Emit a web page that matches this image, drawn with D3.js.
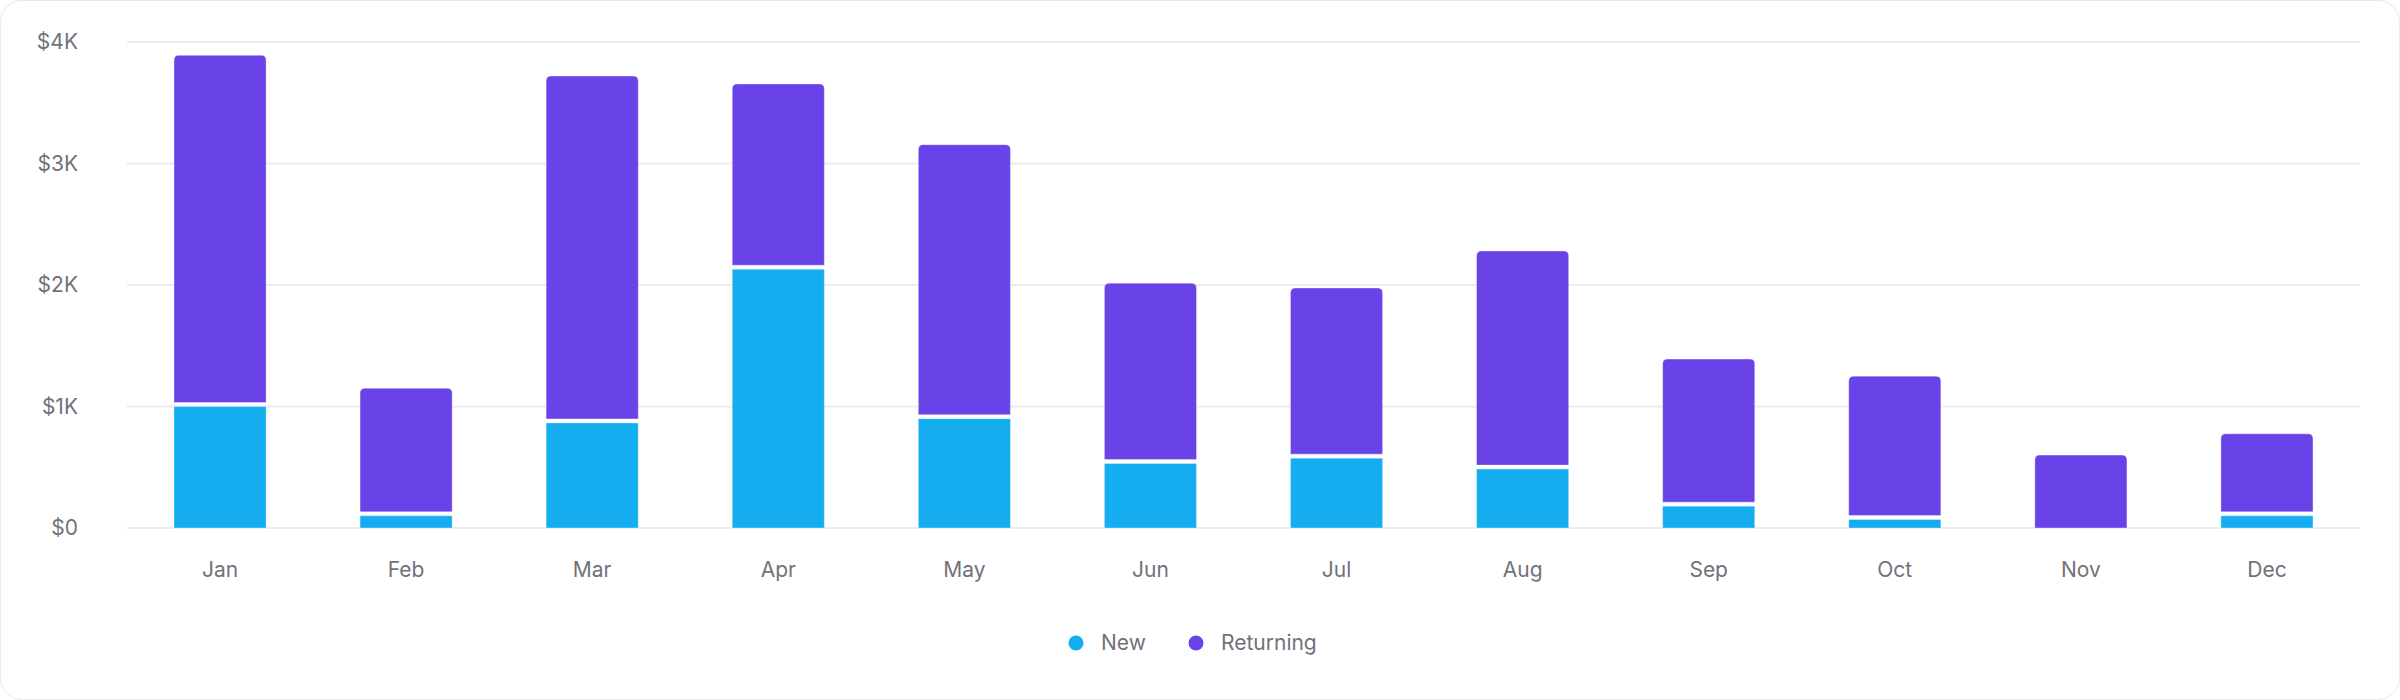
<!DOCTYPE html>
<html>
<head>
<meta charset="utf-8">
<script src="https://cdn.jsdelivr.net/npm/d3@7"></script>
<style>
  html, body { margin: 0; padding: 0; background: #fff; }
  .card {
    position: absolute; left: 0; top: 0;
    width: 2398px; height: 698px;
    border: 1px solid #e9e9ec; border-radius: 22px;
    box-sizing: content-box; overflow: hidden;
  }
  text { font-family: Inter, "Noto Sans", sans-serif; }
</style>
</head>
<body>
<div class="card"></div>
<svg id="chart" width="2400" height="700" style="position:absolute;left:0;top:0"></svg>
<script>
// data
const months = ["Jan", "Feb", "Mar", "Apr", "May", "Jun", "Jul", "Aug", "Sep", "Oct", "Nov", "Dec"]
const newValues = [1000, 100, 865, 2130, 900, 530, 575, 485, 180, 70, 0, 100]
const returningValues = [2890, 1050, 2855, 1525, 2255, 1485, 1400, 1795, 1210, 1180, 600, 675]
const seriesNames = ["New", "Returning"]
const yTicks = [0, 1000, 2000, 3000, 4000]

const colors = ["#14adf0", "#6a43e8"]
const width = 2400, height = 700
const margin = {left: 127, right: 40, top: 42, bottom: 172}
const fontSize = 21

let svg = d3.select("#chart")

let x = d3.scaleBand()
    .domain(months)
    .range([margin.left, width - margin.right])
    .paddingInner(0.505)
    .paddingOuter(0.2525)
let y = d3.scaleLinear()
    .domain([0, 4000])
    .range([height - margin.bottom, margin.top])

// grid lines
svg.append("g")
    .selectAll("line")
    .data(yTicks)
    .enter()
    .append("line")
    .attr("x1", margin.left)
    .attr("x2", width - margin.right)
    .attr("y1", d => y(d))
    .attr("y2", d => y(d))
    .attr("stroke", "#ececee")
    .attr("stroke-width", 2)

// y labels
svg.append("g")
    .selectAll("text")
    .data(yTicks)
    .enter()
    .append("text")
    .attr("x", 78)
    .attr("y", d => y(d))
    .attr("dy", "0.35em")
    .attr("text-anchor", "end")
    .attr("font-size", fontSize)
    .attr("fill", "#71717a")
    .text(d => d === 0 ? "$0" : "$" + d / 1000 + "K")

// x labels
svg.append("g")
    .selectAll("text")
    .data(months)
    .enter()
    .append("text")
    .attr("x", d => x(d) + x.bandwidth() / 2)
    .attr("y", 570)
    .attr("dy", "0.35em")
    .attr("text-anchor", "middle")
    .attr("font-size", fontSize)
    .attr("fill", "#71717a")
    .text(d => d)

// stacked bars
let table = months.map((m, i) => ({month: m, New: newValues[i], Returning: returningValues[i]}))
let stacked = d3.stack().keys(seriesNames)(table)
let gap = 4, radius = 5

function barPath(x0, w, yTop, yBottom, rounded) {
    let h = yBottom - yTop
    if (h <= 0) return ""
    let r = rounded ? Math.min(radius, h / 2, w / 2) : 0
    return `M${x0},${yBottom} V${yTop + r} Q${x0},${yTop} ${x0 + r},${yTop} H${x0 + w - r} Q${x0 + w},${yTop} ${x0 + w},${yTop + r} V${yBottom} Z`
}

stacked.forEach((layer, li) => {
    svg.append("g")
        .selectAll("path")
        .data(layer)
        .enter()
        .append("path")
        .attr("fill", colors[li])
        .attr("stroke", "#ffffff")
        .attr("stroke-opacity", 0.35)
        .attr("stroke-width", 1)
        .attr("d", (d, i) => {
            if (d[1] - d[0] <= 0) return ""
            let isTop = li === stacked.length - 1 || stacked.slice(li + 1).every(l => l[i][1] - l[i][0] <= 0)
            let yBottom = y(d[0]) - (d[0] > 0 ? gap : 0)
            return barPath(x(d.data.month), x.bandwidth(), y(d[1]), yBottom, isTop)
        })
})

// legend
let legendItems = [{name: "New", cx: 1076}, {name: "Returning", cx: 1196}]
let legend = svg.append("g")
legend.selectAll("circle")
    .data(legendItems)
    .enter()
    .append("circle")
    .attr("cx", d => d.cx)
    .attr("cy", 643)
    .attr("r", 7.5)
    .attr("fill", (d, i) => colors[i])
legend.selectAll("text")
    .data(legendItems)
    .enter()
    .append("text")
    .attr("x", d => d.cx + 25)
    .attr("y", 643)
    .attr("dy", "0.35em")
    .attr("font-size", fontSize)
    .attr("fill", "#71717a")
    .text(d => d.name)
</script>
</body>
</html>
